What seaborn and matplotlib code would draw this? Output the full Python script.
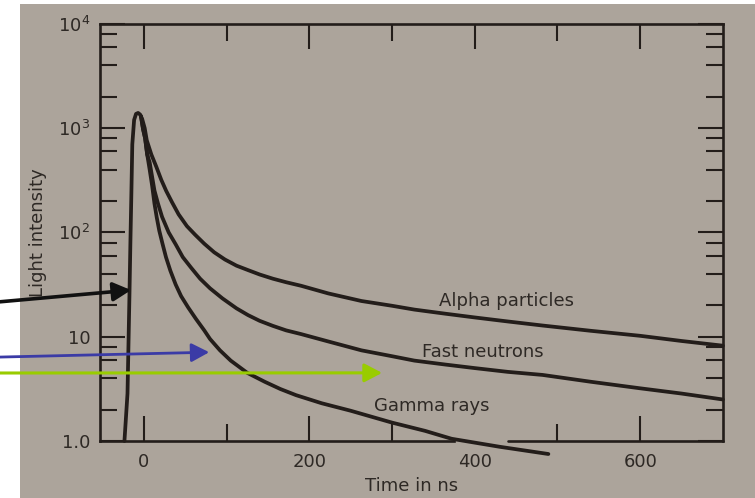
import matplotlib
matplotlib.use("Agg")
import matplotlib.pyplot as plt
from matplotlib.patches import Rectangle
from matplotlib.ticker import FixedLocator
import pandas as pd
import seaborn as sns

# ---- data: light output pulse of a scintillator (time in ns, intensity) ----
# common rising edge up to the peak
rise_t = [-23.5, -19.8, -17.4, -16.3, -15.1, -14.0, -11.8, -9.5, -7.0]
rise_i = [1.0, 2.85, 26, 80, 240, 700, 1200, 1370, 1400]

# alpha particles decay (continues from the peak)
alpha_t = [-4.5, -2, 1, 3.5, 9, 15, 21, 27, 34, 42, 52, 62, 73, 85, 98, 112,
           126, 140, 156, 172, 190, 223, 263, 300, 327, 365, 400, 440, 482,
           540, 600, 650, 700]
alpha_i = [1350, 1220, 1000, 765, 560, 427, 320, 250, 195, 149, 115, 95, 78,
           64.5, 55, 48, 43.5, 39.5, 36, 33.3, 30.8, 26, 22, 19.8, 18.2, 16.6,
           15.3, 14, 12.8, 11.4, 10.2, 9.1, 8.2]

# fast neutrons decay (branches off just after the peak)
neutron_t = [-3.5, -1, 1.5, 4, 7, 12.8, 17, 22, 30, 38.4, 47, 57, 68, 80, 95,
             112, 126, 140, 156, 172, 190, 223, 263, 300, 327, 365, 400, 440,
             482, 540, 600, 650, 700]
neutron_i = [1300, 980, 800, 560, 470, 252, 190, 141, 100, 77, 58, 46, 36,
             29.1, 23.3, 18.7, 16.1, 14.2, 12.7, 11.5, 10.6, 9.0, 7.4, 6.5,
             5.9, 5.4, 5.0, 4.6, 4.3, 3.7, 3.2, 2.85, 2.5]

# gamma rays decay
gamma_t = [-3.5, -1, 1.5, 4, 7, 10, 12.8, 15.5, 18.6, 22.5, 26.7, 32, 38.4, 45,
           53.5, 63, 73, 80, 92, 105, 125, 146, 165, 184, 215, 250, 300, 340,
           372, 430, 489]
gamma_i = [1300, 980, 800, 560, 400, 280, 189, 140, 104, 78, 58, 43, 31.7,
           24.5, 19.1, 14.8, 11.5, 9.5, 7.4, 5.9, 4.5, 3.7, 3.15, 2.75, 2.3,
           1.95, 1.5, 1.25, 1.05, 0.88, 0.75]

curve_labels = ["Alpha particles", "Fast neutrons", "Gamma rays"]
label_t = [438, 410, 348]
label_i = [22, 7.2, 2.15]

y_major = [1, 10, 100, 1000, 10000]
y_major_labels = ["1.0", "10", r"$\mathregular{10^2}$", r"$\mathregular{10^3}$",
                  r"$\mathregular{10^4}$"]
x_major = [0, 200, 400, 600]
x_minor = [100, 300, 500]

# pointer arrows: tip (time, intensity) and start height (figure fraction)
pointer_tip_t = [-15.5, 79, 288]
pointer_tip_i = [28, 7.1, 4.5]
pointer_start_y = [0.394, 0.283, 0.251]
pointer_colors = ["#111111", "#3b3ba6", "#99cc00"]
pointer_widths = [2.6, 2.0, 2.2]

# ---- style ----
sns.set_theme(style="white")
plt.rcParams["font.family"] = ["DejaVu Sans"]
plt.rcParams["mathtext.fontset"] = "custom"
plt.rcParams["mathtext.rm"] = "DejaVu Sans"

ink = "#231d1a"
text_ink = "#2e2925"
paper = "#aca49b"

x_lo, x_hi = -53, 700

fig = plt.figure(figsize=(7.55, 4.98), dpi=100, facecolor="white")
fig.patches.append(Rectangle((20 / 755, 0), 1 - 20 / 755, 1 - 4 / 498,
                             transform=fig.transFigure, facecolor=paper,
                             edgecolor="none", zorder=-5))
ax = fig.add_axes([0.1325, 0.1145, 0.825, 0.8375])
ax.set_facecolor("none")

alpha_df = pd.DataFrame({"t": rise_t + alpha_t, "I": rise_i + alpha_i})
neutron_df = pd.DataFrame({"t": neutron_t, "I": neutron_i})
gamma_df = pd.DataFrame({"t": gamma_t, "I": gamma_i})

for df in (alpha_df, neutron_df, gamma_df):
    sns.lineplot(data=df, x="t", y="I", ax=ax, color=ink, lw=2.7,
                 estimator=None, sort=False)
    ax.lines[-1].set_clip_on(False)
    ax.lines[-1].set_solid_capstyle("round")
    ax.lines[-1].set_solid_joinstyle("round")

ax.set_yscale("log")
ax.set_xlim(x_lo, x_hi)
ax.set_ylim(1, 10000)

# ticks on all four sides, pointing inward
ax.yaxis.set_major_locator(FixedLocator(y_major))
ax.yaxis.set_minor_locator(FixedLocator(
    [m * d for d in [1, 10, 100, 1000] for m in (2, 4, 6, 8)]))
ax.yaxis.set_minor_formatter(plt.NullFormatter())
ax.set_yticklabels(y_major_labels)
ax.xaxis.set_major_locator(FixedLocator(x_major))
ax.xaxis.set_minor_locator(FixedLocator(x_minor))
ax.set_xticklabels([str(v) for v in x_major])

ax.tick_params(which="both", direction="in", top=True, right=True,
               bottom=True, left=True, color=ink, width=1.5,
               labelsize=13, labelcolor=text_ink)
ax.tick_params(which="major", length=18, pad=7)
ax.tick_params(which="minor", length=12)
ax.tick_params(axis="x", which="major", pad=9)

for s in ax.spines.values():
    s.set_color(ink)
    s.set_linewidth(1.9)

# the bottom axis line is interrupted where the gamma curve passes through it
axis_gap = (375, 440)
ax.spines["bottom"].set_bounds(x_lo, axis_gap[0])
ax.axhline(1.0, xmin=(axis_gap[1] - x_lo) / (x_hi - x_lo), xmax=1, color=ink,
           lw=1.9, clip_on=False)
ax.xaxis.get_major_ticks()[2].tick1line.set_visible(False)

ax.set_xlabel("Time in ns", fontsize=13, color=text_ink, labelpad=4)
ax.set_ylabel("Light intensity", fontsize=13, color=text_ink, labelpad=8)

for name, t, i in zip(curve_labels, label_t, label_i):
    ax.text(t, i, name, fontsize=13, color=text_ink, ha="center", va="center")

for tt, ii, sy, c, w in zip(pointer_tip_t, pointer_tip_i, pointer_start_y,
                            pointer_colors, pointer_widths):
    ax.annotate("", xy=(tt, ii), xycoords="data",
                xytext=(0.0, sy), textcoords="figure fraction",
                arrowprops=dict(arrowstyle="-|>,head_length=0.8,head_width=0.42",
                                mutation_scale=13.5, color=c, lw=w,
                                shrinkA=0, shrinkB=0),
                annotation_clip=False)

fig.savefig("out.png", dpi=100, facecolor=fig.get_facecolor())
